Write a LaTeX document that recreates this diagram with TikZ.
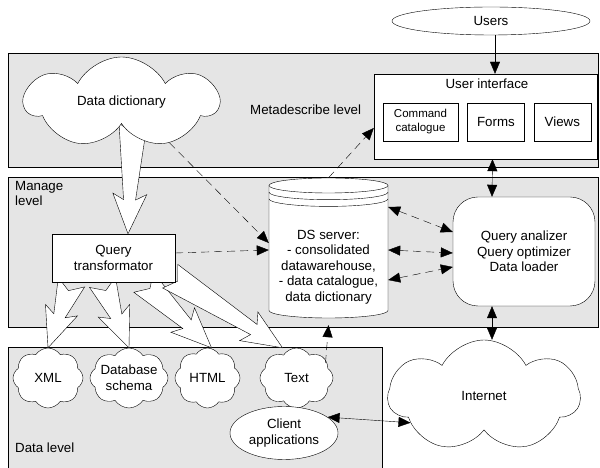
\documentclass[tikz,border=0pt]{standalone}
\usepackage{fontspec}
\setmainfont{Liberation Sans}
\usetikzlibrary{shapes.geometric, shapes.symbols, arrows.meta, positioning, calc}
\pgfdeclarelayer{back}
\pgfdeclarelayer{mid}
\pgfsetlayers{back,mid,main}
\tikzstyle{band} = [draw=black, fill=gray!20]
\tikzstyle{box} = [rectangle, draw=black, fill=white, align=center, inner sep=2pt]
\tikzstyle{puff} = [cloud, cloud puffs=8, cloud puff arc=115, cloud ignores aspect, draw=black, fill=white, align=center, inner sep=-5pt]
\tikzstyle{oval} = [ellipse, draw=black, fill=white, align=center, inner sep=0pt]
\tikzstyle{arrow} = [-{Triangle[length=12pt, width=10pt]}]
\tikzstyle{dblarrow} = [{Triangle[length=12pt, width=10pt]}-{Triangle[length=12pt, width=10pt]}]
\tikzstyle{dasharrow} = [arrow, dash pattern=on 8pt off 5pt]
\tikzstyle{dbldash} = [dblarrow, dash pattern=on 8pt off 5pt]

% wide hollow arrow with notched tail
\newcommand{\hollowarrow}[2]{%
  \coordinate (ha-s) at (#1);
  \coordinate (ha-e) at (#2);
  \coordinate (ha-n) at ($(ha-e)!34pt!(ha-s)$);
  \coordinate (ha-b) at ($(ha-e)!40pt!(ha-s)$);
  \draw[fill=white] ($(ha-s)!14pt!90:(ha-e)$) -- ($(ha-s)!9pt!(ha-e)$) -- ($(ha-s)!14pt!-90:(ha-e)$)
    -- ($(ha-n)!6pt!-90:(ha-e)$) -- ($(ha-b)!17pt!-90:(ha-e)$) -- (ha-e)
    -- ($(ha-b)!17pt!90:(ha-e)$) -- ($(ha-n)!6pt!90:(ha-e)$) -- cycle;
}

\begin{document}
\begin{tikzpicture}[x=1pt, y=1pt, line width=1pt, font=\fontsize{13.3pt}{15.5pt}\selectfont]
\useasboundingbox (0,0) rectangle (600,468);

% levels
\begin{pgfonlayer}{back}
\draw[band] (8,415) rectangle (598,301);
\draw[band] (8,291) rectangle (598,141);
\draw[band] (8,121) rectangle (382,-5);
\end{pgfonlayer}

% metadescribe level
\node (users) [oval, minimum width=198pt, minimum height=28pt] at (491,447) {Users};
\node (ui) [box, minimum width=223pt, minimum height=85pt] at (485.5,351.5) {};
\node (uititle) [anchor=base, inner sep=0pt] at (487,379) {User interface};
\node (cmd) [box, minimum width=75pt, minimum height=38pt, inner sep=1pt, font=\fontsize{11.5pt}{14pt}\selectfont] at (420.5,346) {Command\\catalogue};
\node (forms) [box, minimum width=57pt, minimum height=38pt, right=9pt of cmd] {Forms};
\node (views) [box, minimum width=57pt, minimum height=38pt, right=9pt of forms] {Views};
\node (metalabel) [anchor=base west, inner sep=0pt] at (250,353) {Metadescribe level};
\node (dd) [puff, cloud puffs=7, cloud puff arc=125, minimum width=193pt, minimum height=91pt] at (121.5,365.5) {Data dictionary};

% manage level
\node (dss) [minimum width=119pt, minimum height=140pt, inner sep=0pt] at (328.5,220) {};
\draw[fill=white] (269,282.5) -- (269,157.5) arc[start angle=180, end angle=360, x radius=59.5, y radius=7.5]
  -- (388,282.5) arc[start angle=0, end angle=180, x radius=59.5, y radius=7.5] -- cycle;
\draw (269,282.5) arc[start angle=180, end angle=360, x radius=59.5, y radius=7.5];
\draw (269,275.8) arc[start angle=180, end angle=360, x radius=59.5, y radius=7.5];
\draw (269,269.1) arc[start angle=180, end angle=360, x radius=59.5, y radius=7.5];
\node (dsstext) [align=center, inner sep=0pt] at (328.5,201) {DS server:\\- consolidated\\datawarehouse,\\- data catalogue,\\data dictionary};
\node (qa) [box, rounded corners=25pt, minimum width=142pt, minimum height=109pt] at (524,216.5) {Query analizer\\Query optimizer\\Data loader};
\node (qt) [box, minimum width=123pt, minimum height=48pt] at (113.5,210) {Query\\transformator};
\node (managelabel) [anchor=north west, inner sep=0pt, align=left] at (15,287) {Manage\\level};

% data level
\node (xml) [puff, minimum width=70pt, minimum height=60pt] at (48,90) {XML};
\node (dbs) [puff, minimum width=78pt, minimum height=60pt] at (129,90) {Database\\schema};
\node (html) [puff, minimum width=65pt, minimum height=60pt] at (207.5,90) {HTML};
\node (txt) [puff, minimum width=73pt, minimum height=60pt] at (296.5,90) {Text};
\node (client) [oval, minimum width=108pt, minimum height=53pt] at (284,35) {Client\\applications};
\node (inet) [puff, cloud puffs=7, cloud puff arc=125, minimum width=192pt, minimum height=112pt] at (484,72) {Internet};
\node (datalabel) [anchor=base west, inner sep=0pt] at (15,15) {Data level};

% transformations
\begin{pgfonlayer}{mid}
\hollowarrow{[xshift=11.5pt]dd.south}{[xshift=14.5pt]qt.north}
\hollowarrow{[xshift=-42pt]qt.south}{xml.north}
\hollowarrow{[xshift=-11pt]qt.south}{dbs.north}
\hollowarrow{[xshift=30pt]qt.south}{[xshift=4pt]html.north}
\hollowarrow{[xshift=-5pt,yshift=6pt]qt.south east}{[xshift=-14pt]txt.north}
\end{pgfonlayer}

% links
\draw[arrow] ([xshift=4pt]users.south) -- ([xshift=9.5pt]ui.north);
\draw[dblarrow] ([xshift=7pt]ui.south) -- ([xshift=-32pt]qa.north);
\draw[dblarrow] ([xshift=-32pt]qa.south) -- ([xshift=8pt]inet.north);
\draw[dblarrow] (client.20) -- (inet.200);
\draw[dasharrow] (dd.-40) -- ([yshift=5pt]dss.west);
\draw[dasharrow] ([yshift=5pt]qt.east) -- ([yshift=-2pt]dss.west);
\draw[dasharrow] (dss.north) -- ([yshift=-11.5pt]ui.west);
\draw[dasharrow] ([xshift=29pt,yshift=15pt]txt.center) -- ([yshift=-7pt]dss.south);
\draw[dbldash] ([yshift=41pt]dss.east) -- ([yshift=19.5pt]qa.west);
\draw[dbldash] ([yshift=-2pt]dss.east) -- ([yshift=-1.5pt]qa.west);
\draw[dbldash] ([yshift=-32pt]dss.east) -- ([yshift=-15.5pt]qa.west);

\end{tikzpicture}
\end{document}
